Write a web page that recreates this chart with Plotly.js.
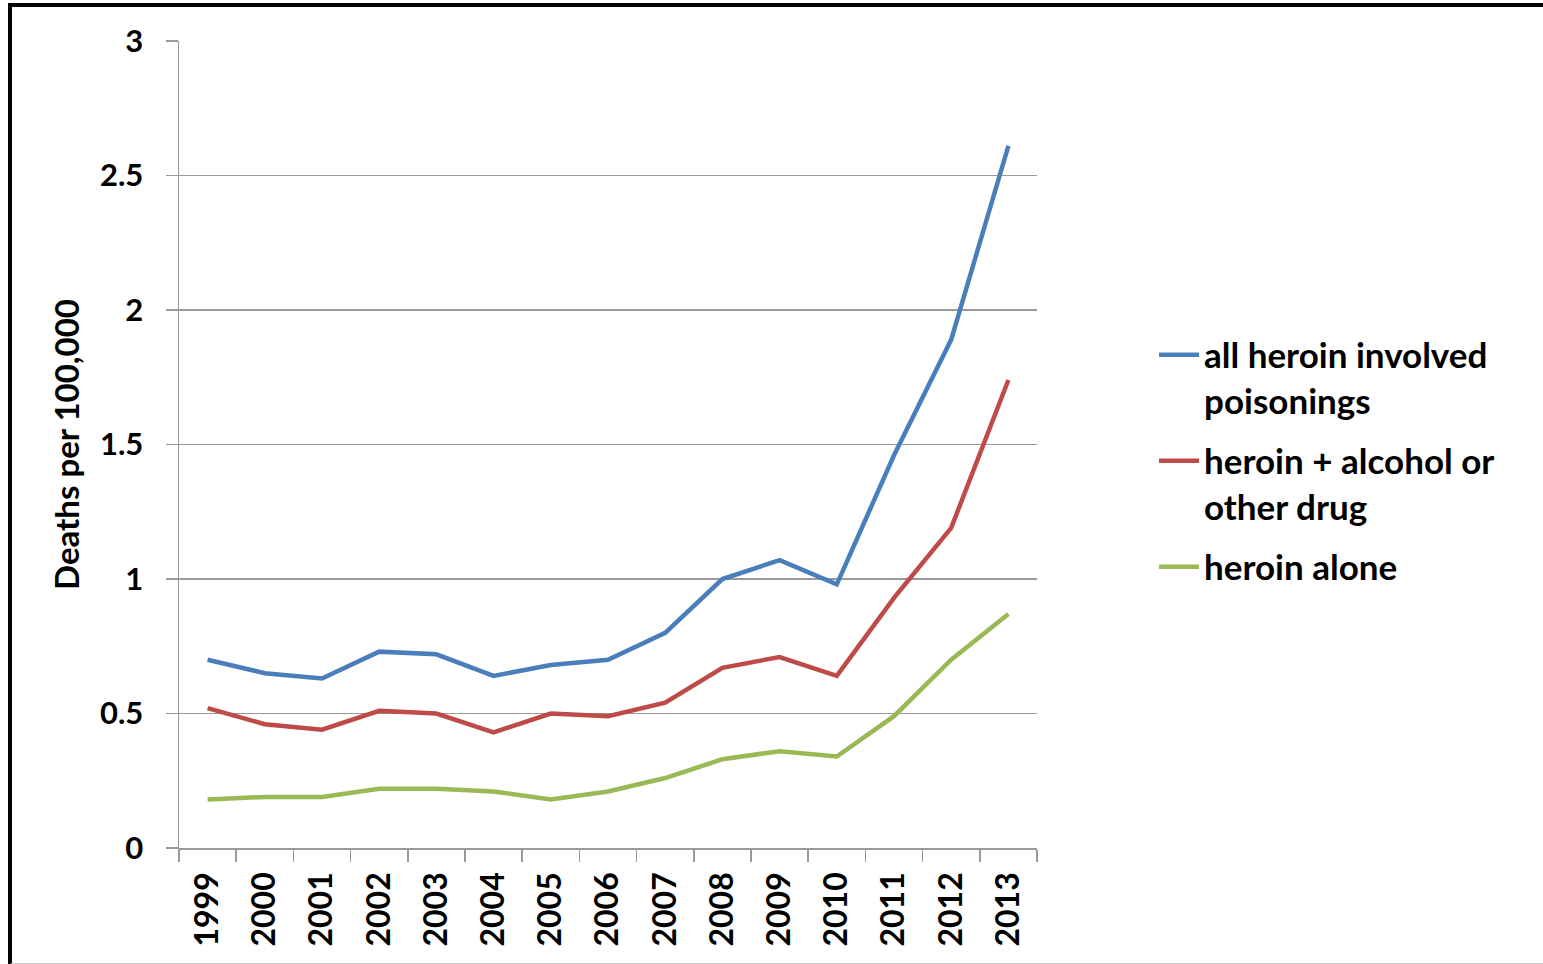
<!DOCTYPE html>
<html>
<head>
<meta charset="utf-8">
<script src="https://cdn.plot.ly/plotly-3.0.1.min.js"></script>
<style>
  html, body { margin: 0; padding: 0; background: #fff; }
  #chart { position: absolute; left: 0; top: 0; width: 1543px; height: 964px; }
  #frame { position: absolute; left: 8px; top: 3px; width: 1560px; height: 956px;
           border-top: 4px solid #000; border-left: 4px solid #000; border-bottom: 2px solid #c8c8c8;
           pointer-events: none; }
</style>
</head>
<body>
<div id="chart"></div>
<div id="frame"></div>
<script>
const years = ["1999","2000","2001","2002","2003","2004","2005","2006","2007","2008","2009","2010","2011","2012","2013"];
const allHeroin = [0.70,0.65,0.63,0.73,0.72,0.64,0.68,0.70,0.80,1.00,1.07,0.98,1.46,1.89,2.61];
const heroinPlus = [0.52,0.46,0.44,0.51,0.50,0.43,0.50,0.49,0.54,0.67,0.71,0.64,0.93,1.19,1.74];
const heroinAlone = [0.18,0.19,0.19,0.22,0.22,0.21,0.18,0.21,0.26,0.33,0.36,0.34,0.49,0.70,0.87];
const seriesNames = ["all heroin involved<br>poisonings","heroin + alcohol or<br>other drug","heroin alone"];
const seriesColors = ["#4a7ebb","#be4b48","#98b954"];

const font = "Lato, 'Open Sans', sans-serif";
const data = [allHeroin, heroinPlus, heroinAlone].map((v, i) => ({
  type: "scatter", mode: "lines", x: years, y: v, name: seriesNames[i],
  legendgroup: "g" + i,
  line: { color: seriesColors[i], width: 4.5 }
}));

const layout = {
  width: 1543, height: 964,
  margin: { l: 179, r: 506, t: 41, b: 116 },
  paper_bgcolor: "#fff", plot_bgcolor: "#fff",
  showlegend: true,
  legend: {
    x: 1.1364, y: 0.6476, xanchor: "left", yanchor: "top",
    font: { family: font, size: 35, color: "#000", weight: "bold" },
    traceorder: "grouped", tracegroupgap: 12, valign: "top", itemwidth: 40
  },
  xaxis: {
    type: "category", range: [-0.5, 14.5], tickson: "boundaries", ticks: "outside", ticklen: 12,
    tickcolor: "#999", tickwidth: 1.5, showline: true, linecolor: "#999", linewidth: 1.5,
    tickangle: -90, showgrid: false, zeroline: false, ticklabelstandoff: 10,
    tickfont: { family: font, size: 32, color: "#000", weight: "bold" }
  },
  yaxis: {
    range: [0, 3], dtick: 0.5, tick0: 0, ticks: "outside", ticklen: 12,
    tickcolor: "#999", tickwidth: 1.5, showline: true, linecolor: "#999", linewidth: 1.5,
    showgrid: true, gridcolor: "#999", gridwidth: 1.5, zeroline: false,
    ticklabelstandoff: 16,
    tickfont: { family: font, size: 31, color: "#000", weight: "bold" },
    title: { text: "Deaths per 100,000", standoff: 10,
             font: { family: font, size: 33, color: "#000", weight: "bold" } }
  }
};

Plotly.newPlot("chart", data, layout, { displayModeBar: false, staticPlot: true });
</script>
</body>
</html>
